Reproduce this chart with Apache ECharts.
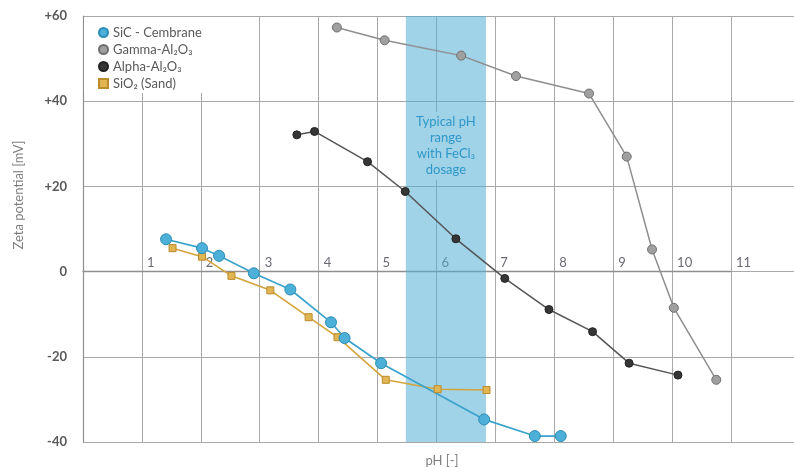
<!DOCTYPE html>
<html>
<head>
<meta charset="utf-8">
<script src="https://cdn.jsdelivr.net/npm/echarts@6/dist/echarts.min.js"></script>
<style>
  html, body { margin: 0; padding: 0; background: #ffffff; }
  #chart { width: 794px; height: 468px; }
</style>
</head>
<body>
<div id="chart"></div>
<script>
// ---- data ----
const seriesNames = ['SiC - Cembrane', 'Gamma-Al\u2082O\u2083', 'Alpha-Al\u2082O\u2083', 'SiO\u2082 (Sand)'];

const sicX   = [1.41, 2.02, 2.31, 2.90, 3.52, 4.21, 4.44, 5.06, 6.81, 7.67, 8.11];
const sicY   = [7.6, 5.5, 3.7, -0.4, -4.2, -11.9, -15.6, -21.5, -34.7, -38.6, -38.6];

const gammaX = [4.31, 5.12, 6.42, 7.35, 8.59, 9.23, 9.66, 10.03, 10.75];
const gammaY = [57.3, 54.3, 50.7, 45.9, 41.8, 27.0, 5.2, -8.5, -25.4];

const alphaX = [3.63, 3.93, 4.83, 5.47, 6.33, 7.16, 7.91, 8.65, 9.27, 10.10];
const alphaY = [32.1, 32.9, 25.8, 18.8, 7.7, -1.6, -8.9, -14.1, -21.5, -24.3];

const sandX  = [1.52, 2.02, 2.52, 3.18, 3.83, 4.32, 5.14, 6.02, 6.85];
const sandY  = [5.5, 3.5, -1.0, -4.4, -10.7, -15.4, -25.4, -27.6, -27.8];

const bandRange = [5.48, 6.84];
const bandText = ['Typical pH', 'range', 'with FeCl\u2083', 'dosage'];

const xTickLabels = ['1', '2', '3', '4', '5', '6', '7', '8', '9', '10', '11'];
const yTickValues = [-40, -20, 0, 20, 40, 60];
const yTickLabels = ['-40', '-20', '0', '+20', '+40', '+60'];

const xAxisTitle = 'pH [-]';
const yAxisTitle = 'Zeta potential [mV]';

// ---- helpers ----
function pairs(xs, ys) { return xs.map((x, i) => [x, ys[i]]); }

const FONT = 'Lato, "Open Sans", sans-serif';
const GRID_COLOR = '#a8a8a8';

// plot geometry
const PLOT_LEFT = 83, PLOT_TOP = 16, PLOT_W = 648, PLOT_H = 426;
const yMin = yTickValues[0], yMax = yTickValues[yTickValues.length - 1];
// height of the part above y = 0, so the pH axis sits on the zero line
const upperH = PLOT_H * (yMax - 0) / (yMax - yMin);

const chart = echarts.init(document.getElementById('chart'), null, { renderer: 'canvas' });

const option = {
  animation: false,
  backgroundColor: '#ffffff',
  grid: [
    { left: PLOT_LEFT, top: PLOT_TOP, width: PLOT_W, height: PLOT_H, containLabel: false },
    { left: PLOT_LEFT + PLOT_W, top: PLOT_TOP, right: 0, height: PLOT_H, containLabel: false },
    { left: PLOT_LEFT, top: PLOT_TOP, width: PLOT_W, height: upperH, containLabel: false }
  ],
  xAxis: [
    {
      type: 'value', gridIndex: 0, min: 0, max: 11, interval: 1,
      axisLine: { show: false }, axisTick: { show: false }, axisLabel: { show: false },
      splitLine: { show: true, lineStyle: { color: GRID_COLOR, width: 1 } }
    },
    { type: 'value', gridIndex: 1, min: 0, max: 1, show: false },
    {
      type: 'value', gridIndex: 2, min: 0, max: 11, interval: 1, position: 'bottom',
      axisLine: { show: true, onZero: false, lineStyle: { color: '#8f8f8f', width: 1.3 } },
      axisTick: { show: false },
      splitLine: { show: false },
      axisLabel: {
        inside: true, margin: 2, align: 'left', padding: [0, 0, 0, 5],
        showMinLabel: false, showMaxLabel: true,
        color: '#6a6a72', fontSize: 13, fontFamily: FONT,
        formatter: function (v) {
          const i = Math.round(v) - 1;
          return (i >= 0 && i < xTickLabels.length) ? xTickLabels[i] : '';
        }
      }
    }
  ],
  yAxis: [
    {
      type: 'value', gridIndex: 0, min: yMin, max: yMax, interval: 20,
      axisLine: { show: true, onZero: false, lineStyle: { color: '#8f8f8f', width: 1.2 } },
      axisTick: { show: false },
      splitLine: { show: true, lineStyle: { color: GRID_COLOR, width: 1 } },
      axisLabel: {
        margin: 16, color: '#595959', fontSize: 13, fontWeight: 'bold', fontFamily: FONT,
        formatter: function (v) {
          const i = yTickValues.indexOf(Math.round(v));
          return i >= 0 ? yTickLabels[i] : '';
        }
      }
    },
    {
      type: 'value', gridIndex: 1, min: yMin, max: yMax, interval: 20,
      axisLine: { show: false }, axisTick: { show: false }, axisLabel: { show: false },
      splitLine: { show: true, lineStyle: { color: GRID_COLOR, width: 1 } }
    },
    { type: 'value', gridIndex: 2, min: 0, max: yMax, show: false }
  ],
  legend: {
    orient: 'vertical', left: 84, top: 17,
    backgroundColor: '#ffffff',
    padding: [9, 28, 3, 14],
    itemGap: 4, itemWidth: 9, itemHeight: 9,
    textStyle: { color: '#595959', fontSize: 13, fontFamily: FONT },
    data: [
      { name: seriesNames[0], icon: 'circle' },
      { name: seriesNames[1], icon: 'circle' },
      { name: seriesNames[2], icon: 'circle' },
      { name: seriesNames[3], icon: 'rect' }
    ]
  },
  graphic: [
    {
      type: 'text', x: 19, y: 195, rotation: Math.PI / 2,
      style: { text: yAxisTitle, fill: '#7f7f7f', font: '13px ' + FONT, align: 'center', verticalAlign: 'middle' }
    },
    {
      type: 'text', x: 442, y: 461,
      style: { text: xAxisTitle, fill: '#7f7f7f', font: '13px ' + FONT, align: 'center', verticalAlign: 'middle' }
    }
  ],
  series: [
    {
      name: 'band', type: 'line', xAxisIndex: 0, yAxisIndex: 0, data: [],
      silent: true,
      markArea: {
        silent: true,
        itemStyle: { color: 'rgba(82,173,213,0.55)' },
        label: {
          show: true, position: ['50%', '30.5%'], align: 'center', verticalAlign: 'middle',
          formatter: bandText.join('\n'),
          color: '#2f98c8', fontSize: 13, lineHeight: 16, fontFamily: FONT,
          backgroundColor: 'rgb(160,210,232)', padding: [3, 3, 1, 3]
        },
        data: [[{ xAxis: bandRange[0] }, { xAxis: bandRange[1] }]]
      }
    },
    {
      name: seriesNames[3], type: 'line', xAxisIndex: 0, yAxisIndex: 0,
      data: pairs(sandX, sandY),
      symbol: 'rect', symbolSize: 7,
      lineStyle: { color: '#d4a43c', width: 1.6 },
      itemStyle: { color: '#e2b553', borderColor: '#bb8b2c', borderWidth: 1 }
    },
    {
      name: seriesNames[1], type: 'line', xAxisIndex: 0, yAxisIndex: 0,
      data: pairs(gammaX, gammaY),
      symbol: 'circle', symbolSize: 9,
      lineStyle: { color: '#8e8e8e', width: 1.5 },
      itemStyle: { color: '#a0a0a0', borderColor: '#6e6e6e', borderWidth: 1 }
    },
    {
      name: seriesNames[2], type: 'line', xAxisIndex: 0, yAxisIndex: 0,
      data: pairs(alphaX, alphaY),
      symbol: 'circle', symbolSize: 8,
      lineStyle: { color: '#555555', width: 1.5 },
      itemStyle: { color: '#363636', borderColor: '#222222', borderWidth: 1 }
    },
    {
      name: seriesNames[0], type: 'line', xAxisIndex: 0, yAxisIndex: 0,
      data: pairs(sicX, sicY),
      symbol: 'circle', symbolSize: 11,
      lineStyle: { color: '#3aa3cc', width: 1.7 },
      itemStyle: { color: '#4db0d9', borderColor: '#2a8db5', borderWidth: 1 }
    }
  ]
};

chart.setOption(option);
</script>
</body>
</html>
